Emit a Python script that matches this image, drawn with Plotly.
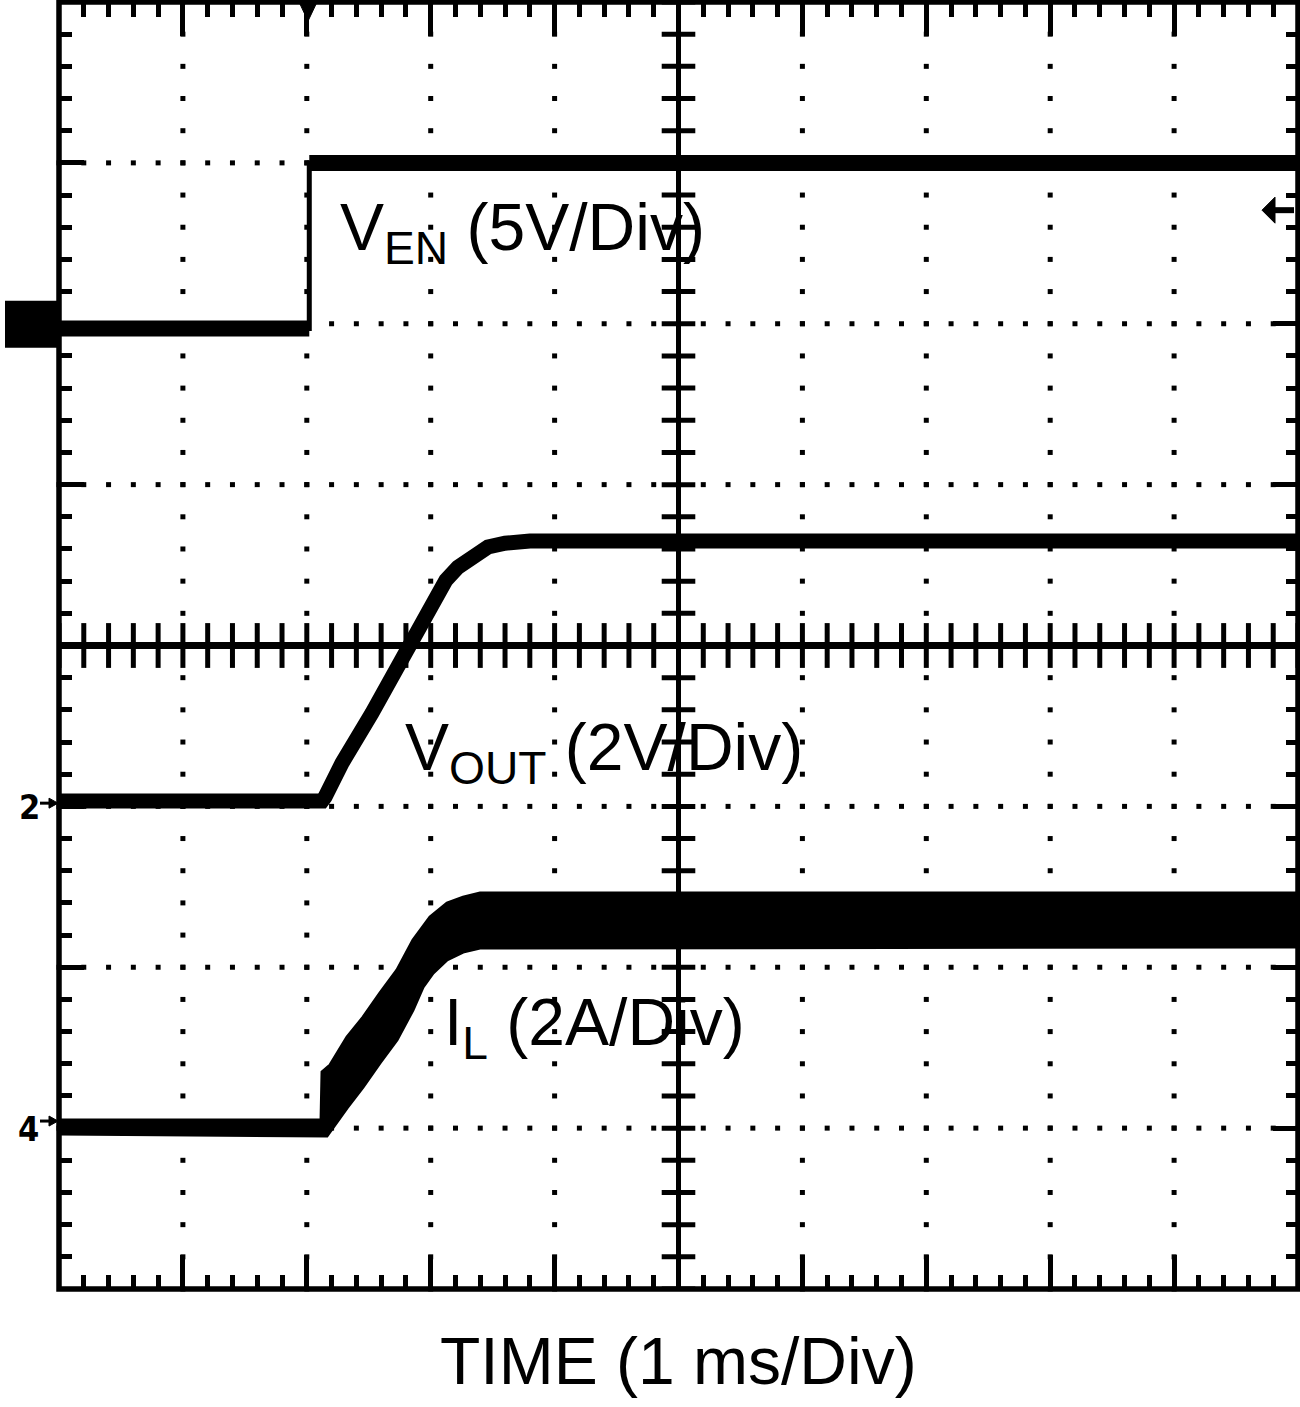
import plotly.graph_objects as go

# ---------------- data ----------------
# time axis: ms (1 ms/div, 10 div); vertical: screen divisions (0 = bottom, 8 = top)
ven_t = [0.0, 2.02, 2.02, 10.0]
ven_v = [5.97, 5.97, 7.00, 7.00]

vout_t = [0.0, 2.123, 2.147, 2.195, 2.284, 2.526, 2.672, 2.817, 2.970, 3.123, 3.220, 3.357, 3.462, 3.600, 3.801, 10.0]
vout_v = [3.033, 3.033, 3.058, 3.151, 3.269, 3.580, 3.785, 3.990, 4.201, 4.406, 4.487, 4.562, 4.612, 4.636, 4.649, 4.649]

# inductor current: ripple envelope (upper / lower edge)
il_hi_t = [0.0, 2.115, 2.123, 2.187, 2.324, 2.454, 2.591, 2.728, 2.857, 2.994, 3.132, 3.261, 3.398, 10.0]
il_hi_v = [1.050, 1.050, 1.349, 1.392, 1.566, 1.690, 1.840, 1.983, 2.169, 2.312, 2.399, 2.436, 2.461, 2.461]
il_lo_t = [0.0, 2.163, 2.324, 2.454, 2.591, 2.728, 2.857, 2.938, 3.019, 3.132, 3.261, 3.398, 10.0]
il_lo_v = [0.963, 0.951, 1.125, 1.255, 1.405, 1.548, 1.734, 1.877, 1.964, 2.045, 2.094, 2.119, 2.126]

ch1_ground = 6.0
ch2_ground = 3.02
ch4_ground = 1.044
trig_time = 2.0
trig_level = 6.706

label_ven = "V<sub>EN</sub> (5V/Div)"
label_vout = "V<sub>OUT</sub> (2V/Div)"
label_il = "I<sub>L</sub> (2A/Div)"
label_time = "TIME (1 ms/Div)"

# ---------------- layout constants ----------------
W, H = 1300, 1407
ML, MR, MT, MB = 59, 2, 2, 118
NX, NY, SUB = 10, 8, 5
PW = W - ML - MR
PH = H - MT - MB
FONT = "Liberation Sans, Arial, Helvetica, sans-serif"


def px2paper_x(px):
    return (px - ML) / PW


dx = NX / PW
dy = NY / PH

fig = go.Figure()

# graticule dots
gx, gy = [], []
for i in range(1, NX):
    if i == NX // 2:
        continue
    for k in range(NY * SUB + 1):
        gx.append(i)
        gy.append(k / SUB)
for j in range(1, NY):
    if j == NY // 2:
        continue
    for k in range(NX * SUB + 1):
        gx.append(k / SUB)
        gy.append(j)
fig.add_trace(go.Scatter(x=gx, y=gy, mode="markers",
                         marker=dict(symbol="square", size=5, color="black", line=dict(width=0)),
                         hoverinfo="skip", cliponaxis=False))

# centre cross ticks
cx = [k / SUB for k in range(NX * SUB + 1)]
fig.add_trace(go.Scatter(x=cx, y=[NY / 2] * len(cx), mode="markers",
                         marker=dict(symbol="line-ns", size=32, line=dict(width=5, color="black")),
                         hoverinfo="skip"))
cy = [k / SUB for k in range(NY * SUB + 1)]
fig.add_trace(go.Scatter(x=[NX / 2] * len(cy), y=cy, mode="markers",
                         marker=dict(symbol="line-ew", size=24, line=dict(width=5, color="black")),
                         hoverinfo="skip"))

# IL band
fig.add_trace(go.Scatter(x=il_hi_t + il_lo_t[::-1], y=il_hi_v + il_lo_v[::-1],
                         mode="lines", fill="toself", fillcolor="black",
                         line=dict(color="black", width=3), hoverinfo="skip"))

# VOUT
fig.add_trace(go.Scatter(x=vout_t, y=vout_v, mode="lines",
                         line=dict(color="black", width=15), hoverinfo="skip"))

# VEN: thin edge + thick flat levels
fig.add_trace(go.Scatter(x=ven_t, y=ven_v, mode="lines",
                         line=dict(color="black", width=5), hoverinfo="skip"))
flat_x, flat_y = [], []
for i in range(len(ven_t) - 1):
    if ven_v[i] == ven_v[i + 1]:
        flat_x += [ven_t[i], ven_t[i + 1], None]
        flat_y += [ven_v[i], ven_v[i + 1], None]
fig.add_trace(go.Scatter(x=flat_x, y=flat_y, mode="lines", connectgaps=False,
                         line=dict(color="black", width=16), hoverinfo="skip"))

shapes = []
# centre cross lines
shapes.append(dict(type="line", xref="x", yref="paper", x0=NX / 2, x1=NX / 2, y0=0, y1=1,
                   line=dict(color="black", width=5), layer="below"))
shapes.append(dict(type="line", xref="paper", yref="y", x0=0, x1=1, y0=NY / 2, y1=NY / 2,
                   line=dict(color="black", width=7), layer="below"))
# border
shapes.append(dict(type="rect", xref="paper", yref="paper", x0=0, x1=1, y0=0, y1=1,
                   line=dict(color="black", width=5.5), layer="above"))

# CH1 ground marker (black block left of screen)
shapes.append(dict(type="rect", xref="paper", yref="y",
                   x0=px2paper_x(5), x1=px2paper_x(60),
                   y0=ch1_ground - 24 * dy, y1=ch1_ground + 23 * dy,
                   fillcolor="black", line=dict(width=0), layer="above"))


def right_arrow(level):
    out = []
    out.append(dict(type="line", xref="paper", yref="y", x0=px2paper_x(40), x1=px2paper_x(52),
                    y0=level, y1=level, line=dict(color="black", width=3)))
    out.append(dict(type="path", xref="paper", yref="y",
                    path=f"M {px2paper_x(49)},{level + 5 * dy} L {px2paper_x(58)},{level} "
                         f"L {px2paper_x(49)},{level - 5 * dy} Z",
                    fillcolor="black", line=dict(color="black", width=1)))
    return out


shapes += right_arrow(ch2_ground)
shapes += right_arrow(ch4_ground)

# trigger level arrow on the right
shapes.append(dict(type="line", xref="paper", yref="y", x0=px2paper_x(1270), x1=px2paper_x(1294),
                   y0=trig_level, y1=trig_level, line=dict(color="black", width=6)))
shapes.append(dict(type="path", xref="paper", yref="y",
                   path=f"M {px2paper_x(1275)},{trig_level + 13 * dy} L {px2paper_x(1262)},{trig_level} "
                        f"L {px2paper_x(1275)},{trig_level - 13 * dy} Z",
                   fillcolor="black", line=dict(color="black", width=1)))
# trigger position marker at the top
shapes.append(dict(type="path", xref="x", yref="paper",
                   path=f"M {trig_time + 0.01 - 9 * dx},1 L {trig_time + 0.01 + 9 * dx},1 "
                        f"L {trig_time + 0.01},{1 - 19 / PH} Z",
                   fillcolor="black", line=dict(color="black", width=1)))

annotations = [
    dict(text=label_ven, x=2.252, y=6.843, xref="x", yref="y", xanchor="left", yanchor="top",
         showarrow=False, font=dict(family=FONT, size=66, color="black")),
    dict(text=label_vout, x=2.776, y=3.611, xref="x", yref="y", xanchor="left", yanchor="top",
         showarrow=False, font=dict(family=FONT, size=66, color="black")),
    dict(text=label_il, x=3.091, y=1.902, xref="x", yref="y", xanchor="left", yanchor="top",
         showarrow=False, font=dict(family=FONT, size=66, color="black")),
    dict(text=label_time, x=0.5, y=-0.0256, xref="paper", yref="paper", xanchor="center", yanchor="top",
         showarrow=False, font=dict(family=FONT, size=66, color="black")),
    dict(text="<b>2</b>", x=px2paper_x(29), y=ch2_ground - 4 * dy, xref="paper", yref="y",
         xanchor="center", yanchor="middle", showarrow=False,
         font=dict(family="Liberation Sans Narrow, DejaVu Sans Condensed, Liberation Sans", size=34, color="black")),
    dict(text="<b>4</b>", x=px2paper_x(28), y=ch4_ground - 8 * dy, xref="paper", yref="y",
         xanchor="center", yanchor="middle", showarrow=False,
         font=dict(family="Liberation Sans Narrow, DejaVu Sans Condensed, Liberation Sans", size=34, color="black")),
]

fig.update_layout(width=W, height=H, margin=dict(l=ML, r=MR, t=MT, b=MB),
                  plot_bgcolor="white", paper_bgcolor="white", showlegend=False,
                  shapes=shapes, annotations=annotations)

fig.update_xaxes(range=[0, NX], showgrid=False, zeroline=False, showline=False, showticklabels=False,
                 ticks="inside", tick0=0, dtick=1, ticklen=34, tickwidth=5, tickcolor="black", mirror="ticks",
                 minor=dict(ticks="inside", tick0=0, dtick=1 / SUB, ticklen=14.5, tickwidth=5,
                            tickcolor="black", showgrid=False),
                 fixedrange=True)
fig.update_yaxes(range=[0, NY], showgrid=False, zeroline=False, showline=False, showticklabels=False,
                 ticks="inside", tick0=0, dtick=1, ticklen=25, tickwidth=5, tickcolor="black", mirror="ticks",
                 minor=dict(ticks="inside", tick0=0, dtick=1 / SUB, ticklen=12.5, tickwidth=5,
                            tickcolor="black", showgrid=False),
                 fixedrange=True)

fig.write_html("out.html", config={"displayModeBar": False},
               post_script="document.body.style.margin='0';document.body.style.overflow='hidden';")
